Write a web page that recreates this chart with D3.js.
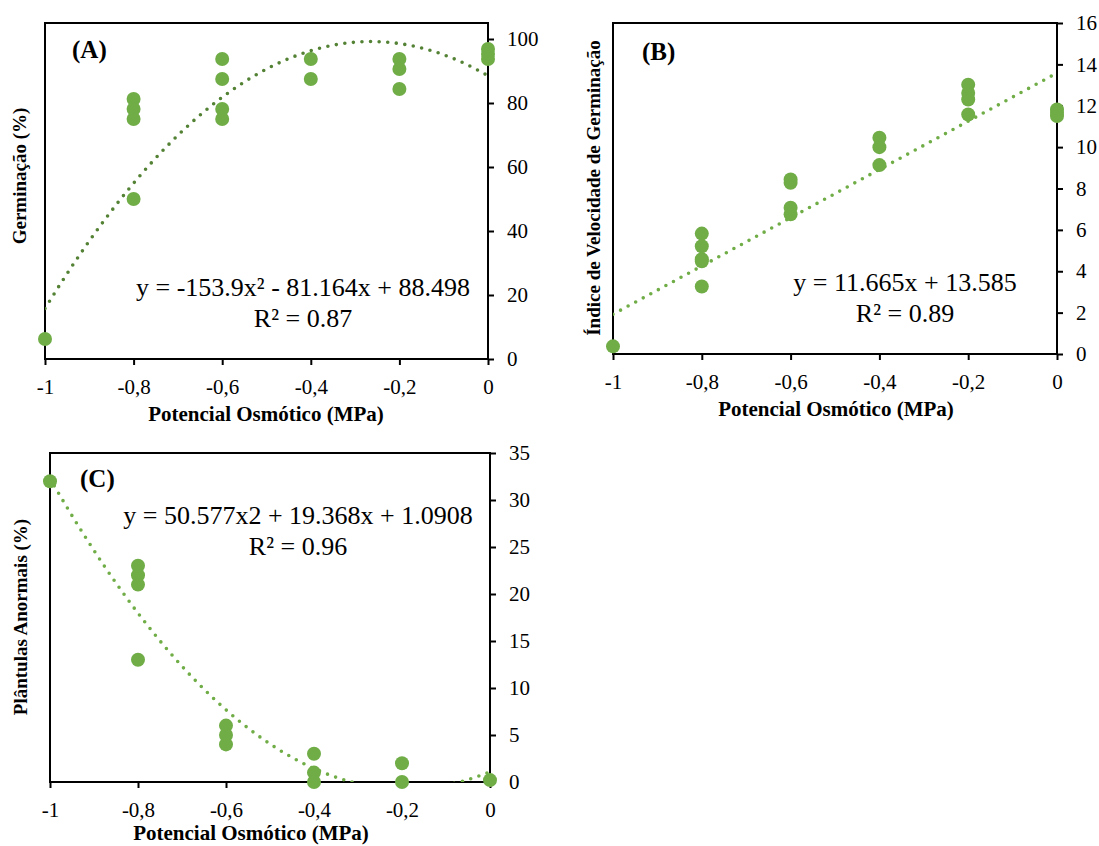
<!DOCTYPE html>
<html>
<head>
<meta charset="utf-8">
<script src="https://cdn.jsdelivr.net/npm/d3@7"></script>
<style>
  body { margin: 0; background: #fff; }
  text { font-family: "Liberation Serif", "Times New Roman", serif; fill: #000; }
</style>
</head>
<body>
<div id="chart"></div>
<script>
// Shared x axis (osmotic potential, MPa)
const xTickValues = [-1, -0.8, -0.6, -0.4, -0.2, 0];
const xTickLabels = ['-1', '-0,8', '-0,6', '-0,4', '-0,2', '0'];

// (A) Germinação (%)
const germX = [-1, -0.8, -0.8, -0.8, -0.8, -0.6, -0.6, -0.6, -0.6, -0.4, -0.4, -0.2, -0.2, -0.2, 0, 0, 0];
const germY = [6.25, 81.25, 78.125, 75, 50, 93.75, 87.5, 78.125, 75, 93.75, 87.5, 93.75, 90.625, 84.375, 96.875, 95.3, 93.75];
const germCoef = [88.498, -81.164, -153.9];
const germYTicks = [0, 20, 40, 60, 80, 100];

// (B) Índice de Velocidade de Germinação
const ivgX = [-1, -0.8, -0.8, -0.8, -0.8, -0.8, -0.6, -0.6, -0.6, -0.6, -0.4, -0.4, -0.4, -0.2, -0.2, -0.2, -0.2, 0, 0, 0];
const ivgY = [0.37, 5.82, 5.21, 4.58, 4.48, 3.26, 8.44, 8.28, 7.07, 6.75, 10.45, 10.0, 9.13, 13.02, 12.62, 12.3, 11.58, 11.82, 11.66, 11.5];
const ivgCoef = [13.585, 11.665];
const ivgYTicks = [0, 2, 4, 6, 8, 10, 12, 14, 16];

// (C) Plântulas Anormais (%)
const anormX = [-1, -0.8, -0.8, -0.8, -0.8, -0.6, -0.6, -0.6, -0.4, -0.4, -0.4, -0.2, -0.2, 0];
const anormY = [32, 23, 22, 21, 13, 6, 5, 4, 3, 1, 0, 2, 0, 0.2];
const anormCoef = [1.0908, 19.368, 50.577];
const anormYTicks = [0, 5, 10, 15, 20, 25, 30, 35];

const width = 1099, height = 846;
const markerColor = '#70ad47';

const svg = d3.select('#chart').append('svg')
    .attr('width', width)
    .attr('height', height);

svg.append('rect').attr('width', width).attr('height', height).attr('fill', '#fff');

// evaluate trendline polynomial from its coefficients
const poly = (coef, x) => coef.reduce((s, c, i) => s + c * Math.pow(x, i), 0);

function drawPanel(p) {
    const x = d3.scaleLinear().domain([-1, 0]).range([p.left, p.right]);
    const y = d3.scaleLinear().domain([0, p.yMax]).range([p.bottom, p.top]);
    const g = svg.append('g');

    // clip so the trendline stays inside the plot area
    g.append('clipPath').attr('id', 'clip-' + p.id)
        .append('rect')
        .attr('x', p.left).attr('y', p.top)
        .attr('width', p.right - p.left).attr('height', p.bottom - p.top);

    // frame
    g.append('rect')
        .attr('x', p.left).attr('y', p.top)
        .attr('width', p.right - p.left).attr('height', p.bottom - p.top)
        .attr('fill', 'none').attr('stroke', '#000').attr('stroke-width', 2);

    // x axis with labels under the plot
    const xAxis = g.append('g')
        .attr('transform', `translate(0,${p.bottom})`)
        .call(d3.axisBottom(x)
            .tickValues(xTickValues)
            .tickFormat((d, i) => xTickLabels[i])
            .tickSize(6).tickSizeOuter(0).tickPadding(14));
    xAxis.select('.domain').remove();
    xAxis.selectAll('line').attr('stroke', '#000').attr('stroke-width', 2);
    xAxis.selectAll('text').attr('font-size', 21).attr('font-family', 'Liberation Serif');

    // y axis on the right side
    const yAxis = g.append('g')
        .attr('transform', `translate(${p.right},0)`)
        .call(d3.axisRight(y)
            .tickValues(p.yTicks)
            .tickSize(6).tickSizeOuter(0).tickPadding(13));
    yAxis.select('.domain').remove();
    yAxis.selectAll('line').attr('stroke', '#000').attr('stroke-width', 2);
    yAxis.selectAll('text').attr('font-size', 21).attr('font-family', 'Liberation Serif');

    // markers
    g.selectAll('circle.pt')
        .data(p.xs.map((v, i) => [v, p.ys[i]]))
        .enter().append('circle')
        .attr('class', 'pt')
        .attr('cx', d => x(d[0]))
        .attr('cy', d => y(d[1]))
        .attr('r', 7)
        .attr('fill', markerColor);

    // dotted trendline
    const line = d3.line().x(d => x(d)).y(d => y(poly(p.coef, d)));
    g.append('path')
        .datum(d3.range(-1, 0.0001, 0.005))
        .attr('d', line)
        .attr('clip-path', `url(#clip-${p.id})`)
        .attr('fill', 'none')
        .attr('stroke', p.trendColor)
        .attr('stroke-width', 3.6)
        .attr('stroke-linecap', 'round')
        .attr('stroke-dasharray', '0 8.6');

    // panel letter
    g.append('text')
        .attr('x', p.letterX).attr('y', p.letterY)
        .attr('font-size', 25).attr('font-weight', 'bold')
        .text(p.letter);

    // equation and R²
    g.append('text')
        .attr('x', p.eqX).attr('y', p.eqY)
        .attr('text-anchor', 'middle').attr('font-size', 26)
        .text(p.eq);
    g.append('text')
        .attr('x', p.eqX).attr('y', p.eqY + 31)
        .attr('text-anchor', 'middle').attr('font-size', 26)
        .text(p.r2);

    // axis titles
    g.append('text')
        .attr('x', p.xTitleX).attr('y', p.xTitleY)
        .attr('text-anchor', 'middle').attr('font-size', 21).attr('font-weight', 'bold')
        .text('Potencial Osmótico (MPa)');
    g.append('text')
        .attr('transform', `translate(${p.yTitleX},${p.yTitleY}) rotate(-90)`)
        .attr('text-anchor', 'middle').attr('font-size', 19).attr('font-weight', 'bold')
        .text(p.yTitle);
}

drawPanel({
    id: 'a', left: 45, right: 488, top: 23, bottom: 359, yMax: 105,
    yTicks: germYTicks, xs: germX, ys: germY, coef: germCoef, trendColor: '#548235',
    letter: '(A)', letterX: 72, letterY: 58,
    eq: 'y = -153.9x² - 81.164x + 88.498', r2: 'R² = 0.87', eqX: 303, eqY: 296,
    xTitleX: 266, xTitleY: 421, yTitle: 'Germinação (%)', yTitleX: 26, yTitleY: 176
});

drawPanel({
    id: 'b', left: 613, right: 1057, top: 23, bottom: 354, yMax: 16,
    yTicks: ivgYTicks, xs: ivgX, ys: ivgY, coef: ivgCoef, trendColor: markerColor,
    letter: '(B)', letterX: 642, letterY: 60,
    eq: 'y = 11.665x + 13.585', r2: 'R² = 0.89', eqX: 905, eqY: 291,
    xTitleX: 836, xTitleY: 416, yTitle: 'Índice de Velocidade de Germinação', yTitleX: 600, yTitleY: 188
});

drawPanel({
    id: 'c', left: 50, right: 490, top: 453, bottom: 782, yMax: 35,
    yTicks: anormYTicks, xs: anormX, ys: anormY, coef: anormCoef, trendColor: markerColor,
    letter: '(C)', letterX: 80, letterY: 487,
    eq: 'y = 50.577x2 + 19.368x + 1.0908', r2: 'R² = 0.96', eqX: 298, eqY: 524,
    xTitleX: 251, xTitleY: 840, yTitle: 'Plântulas Anormais (%)', yTitleX: 27, yTitleY: 617
});
</script>
</body>
</html>
